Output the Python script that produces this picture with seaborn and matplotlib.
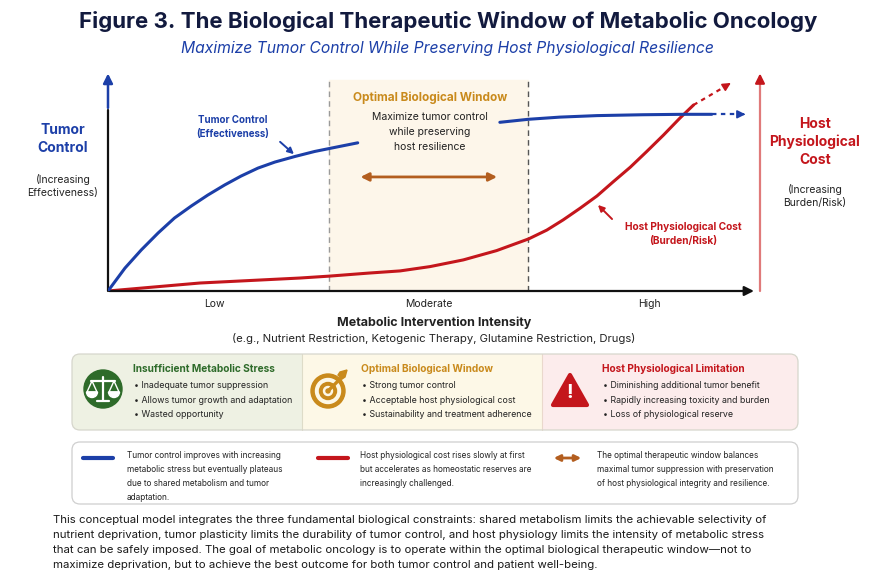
import matplotlib
matplotlib.use("Agg")
import matplotlib.pyplot as plt
import seaborn as sns
from matplotlib.patches import FancyBboxPatch, Rectangle, Circle, Polygon, Wedge

sns.set_theme(style="white")
plt.rcParams["font.family"] = ["Inter", "DejaVu Sans"]

# Colours
NAVY = "#121a3e"
BLUE = "#1c3fa8"
RED = "#c4161c"
GOLD = "#c98a1c"
BROWN = "#b35e1f"
GREEN = "#2e6b2a"
INK = "#222222"

# Curves (intensity 0-10, response 0-100)
tumor_x_low = [0, 0.26, 0.51, 0.77, 1.02, 1.28, 1.53, 1.79, 2.04, 2.30, 2.56, 2.87, 3.17, 3.40, 3.83]
tumor_y_low = [0, 10.6, 19.0, 26.9, 33.8, 39.4, 44.4, 49.1, 53.2, 56.9, 59.7, 62.3, 64.6, 66.0, 68.6]
tumor_x_high = [6.01, 6.45, 6.93, 7.50, 8.20, 8.82, 9.26]
tumor_y_high = [78.1, 79.5, 80.5, 81.2, 81.6, 81.8, 81.8]
tumor_x_proj = [9.26, 9.68]
tumor_y_proj = [81.8, 81.8]

cost_x = [0, 1.41, 2.94, 3.40, 4.00, 4.48, 4.94, 5.45, 5.96, 6.45, 6.73, 6.98, 7.24,
          7.50, 7.75, 8.01, 8.26, 8.52, 8.77, 8.98]
cost_y = [0, 3.7, 6.0, 6.9, 8.3, 9.3, 11.3, 14.4, 18.7, 24.1, 28.2, 32.9, 38.3,
          44.0, 50.6, 57.3, 64.5, 72.2, 80.0, 86.1]
cost_x_proj = [8.98, 9.46]
cost_y_proj = [86.1, 94.6]

window_edges = [3.39, 6.44]
level_ticks = [1.63, 4.92, 8.31]
level_labels = ["Low", "Moderate", "High"]

panel_titles = ["Insufficient Metabolic Stress", "Optimal Biological Window", "Host Physiological Limitation"]
panel_bullets = [
    ["Inadequate tumor suppression", "Allows tumor growth and adaptation", "Wasted opportunity"],
    ["Strong tumor control", "Acceptable host physiological cost", "Sustainability and treatment adherence"],
    ["Diminishing additional tumor benefit", "Rapidly increasing toxicity and burden", "Loss of physiological reserve"],
]
legend_texts = [
    ["Tumor control improves with increasing", "metabolic stress but eventually plateaus",
     "due to shared metabolism and tumor", "adaptation."],
    ["Host physiological cost rises slowly at first", "but accelerates as homeostatic reserves are",
     "increasingly challenged."],
    ["The optimal therapeutic window balances", "maximal tumor suppression with preservation",
     "of host physiological integrity and resilience."],
]
caption_lines = [
    "This conceptual model integrates the three fundamental biological constraints: shared metabolism limits the achievable selectivity of",
    "nutrient deprivation, tumor plasticity limits the durability of tumor control, and host physiology limits the intensity of metabolic stress",
    "that can be safely imposed. The goal of metabolic oncology is to operate within the optimal biological therapeutic window\u2014not to",
    "maximize deprivation, but to achieve the best outcome for both tumor control and patient well-being.",
]

fig = plt.figure(figsize=(8.78, 5.85), dpi=100)

# main chart
ax = fig.add_axes([108 / 878, (585 - 291) / 585, 652 / 878, 216 / 585], zorder=1)
ax.patch.set_alpha(0)
ax.set_xlim(0, 10)
ax.set_ylim(0, 100)
sns.despine(ax=ax, left=True, bottom=True)

# pixel canvas for the layout pieces (drawn above the chart)
cv = fig.add_axes([0, 0, 1, 1], zorder=2)
cv.set_xlim(0, 878)
cv.set_ylim(585, 0)
cv.axis("off")

# window
ax.axvspan(window_edges[0], window_edges[1], ymax=0.977, color="#fdf6ea", zorder=0)
ax.plot([window_edges[0]] * 2, [0, 97.7], ls=(0, (4, 3)), color="#9a9a9a", lw=1)
ax.plot([window_edges[1]] * 2, [0, 97.7], ls=(0, (4, 3)), color="#555555", lw=1)

# curves
line_kw = dict(lw=2.2, solid_joinstyle="round", solid_capstyle="round")
sns.lineplot(x=cost_x, y=cost_y, color=RED, ax=ax, zorder=3, **line_kw)
sns.lineplot(x=tumor_x_low, y=tumor_y_low, color=BLUE, ax=ax, zorder=4, **line_kw)
sns.lineplot(x=tumor_x_high, y=tumor_y_high, color=BLUE, ax=ax, zorder=4, **line_kw)
ax.plot(tumor_x_proj, tumor_y_proj, color=BLUE, lw=1.6, ls=(0, (2, 2)), zorder=4)
ax.plot(cost_x_proj, cost_y_proj, color=RED, lw=1.6, ls=(0, (2, 2)), zorder=3)
ax.annotate("", xy=(tumor_x_proj[1] + 0.14, tumor_y_proj[1]), xytext=(tumor_x_proj[1], tumor_y_proj[1]),
            arrowprops=dict(arrowstyle="-|>", color=BLUE, lw=1.2, mutation_scale=12), annotation_clip=False)
ax.annotate("", xy=(cost_x_proj[1] + 0.13, cost_y_proj[1] + 2.4), xytext=(cost_x_proj[1], cost_y_proj[1]),
            arrowprops=dict(arrowstyle="-|>", color=RED, lw=1.2, mutation_scale=12), annotation_clip=False)

# axes arrows
ax.plot([0, 0], [0, 84], color="#111111", lw=1.6, clip_on=False)
ax.annotate("", xy=(0, 102), xytext=(0, 83.5),
            arrowprops=dict(arrowstyle="-|>", color=BLUE, lw=1.8, mutation_scale=14), annotation_clip=False)
ax.annotate("", xy=(9.95, 0), xytext=(-0.02, 0),
            arrowprops=dict(arrowstyle="-|>", color="#111111", lw=1.6, mutation_scale=14), annotation_clip=False)
ax.plot([10, 10], [0, 96], color="#e07a7a", lw=1.6, clip_on=False)
ax.annotate("", xy=(10, 102), xytext=(10, 95),
            arrowprops=dict(arrowstyle="-|>", color=RED, lw=1.6, mutation_scale=14), annotation_clip=False)

ax.set_yticks([])
ax.set_xticks(level_ticks)
ax.set_xticklabels(level_labels, fontsize=7.5, color=INK)
ax.tick_params(axis="x", length=0, pad=6)
ax.set_xlabel("")
ax.set_ylabel("")

# window double arrow
ax.annotate("", xy=(6.01, 52.8), xytext=(3.83, 52.8),
            arrowprops=dict(arrowstyle="<|-|>", color=BROWN, lw=2, mutation_scale=12))


def txt(x, y, s, size=7.5, color=INK, weight="normal", ha="center", **kw):
    cv.text(x, y, s, fontsize=size, color=color, fontweight=weight, ha=ha, va="center", **kw)


# titles
txt(448, 21, "Figure 3. The Biological Therapeutic Window of Metabolic Oncology", 16, NAVY, "bold")
txt(447, 49, "Maximize Tumor Control While Preserving Host Physiological Resilience", 11.3, BLUE, style="italic")

# axis side labels
txt(63, 139, "Tumor\nControl", 10, BLUE, "bold", linespacing=1.35)
txt(63, 186, "(Increasing\nEffectiveness)", 7.5, INK, linespacing=1.4)
txt(815, 142, "Host\nPhysiological\nCost", 10, RED, "bold", linespacing=1.3)
txt(815, 196, "(Increasing\nBurden/Risk)", 7.5, INK, linespacing=1.4)

txt(233, 127, "Tumor Control\n(Effectiveness)", 7, BLUE, "bold", linespacing=1.45)
cv.annotate("", xy=(296, 156), xytext=(278, 140),
            arrowprops=dict(arrowstyle="-|>", color=BLUE, lw=1.4, mutation_scale=9))
txt(683, 234, "Host Physiological Cost\n(Burden/Risk)", 7.3, RED, "bold", linespacing=1.45)
cv.annotate("", xy=(596, 203), xytext=(614, 221),
            arrowprops=dict(arrowstyle="-|>", color=RED, lw=1.4, mutation_scale=9))

txt(430, 98, "Optimal Biological Window", 8.5, GOLD, "bold")
txt(430, 132, "Maximize tumor control\nwhile preserving\nhost resilience", 7.5, INK, linespacing=1.6)

txt(434, 323, "Metabolic Intervention Intensity", 9, INK, "bold")
txt(434, 338, "(e.g., Nutrient Restriction, Ketogenic Therapy, Glutamine Restriction, Drugs)", 8.1, INK)

# info panels
L, R, T, B = 72, 798, 354, 430
cv.add_patch(FancyBboxPatch((L, T), R - L, B - T, boxstyle="round,pad=0,rounding_size=8",
                            fc="#fcecec", ec="none", zorder=1))
cv.add_patch(FancyBboxPatch((L, T), 250, B - T, boxstyle="round,pad=0,rounding_size=8",
                            fc="#eef1e3", ec="none", zorder=1))
cv.add_patch(Rectangle((302, T), 240, B - T, fc="#fdf8e7", ec="none", zorder=1))
cv.plot([302, 302], [T, B], color="#dedcc8", lw=0.8, zorder=2)
cv.plot([542, 542], [T, B], color="#ead8cc", lw=0.8, zorder=2)
cv.add_patch(FancyBboxPatch((L, T), R - L, B - T, boxstyle="round,pad=0,rounding_size=8",
                            fc="none", ec="#d6d6cc", lw=0.9, zorder=3))

panel_x = [133, 361, 602]
panel_colors = [GREEN, GOLD, RED]
for px, title, bullets, col in zip(panel_x, panel_titles, panel_bullets, panel_colors):
    txt(px, 369, title, 7.3, col, "bold", ha="left")
    for k, b in enumerate(bullets):
        txt(px + 1, 385.5 + 14.6 * k, "\u2022 " + b, 6.35, INK, ha="left")

# scales icon
cv.add_patch(Circle((103, 389), 19, color=GREEN, zorder=4))
w = dict(color="white", lw=1.6, zorder=5, solid_capstyle="round")
cv.plot([103, 103], [377, 400], **w)
cv.plot([91, 115], [381, 381], **w)
cv.plot([97, 109], [401, 401], **w)
for cx in (92, 114):
    cv.plot([cx, cx - 5, cx + 5, cx], [381, 392, 392, 381], color="white", lw=1, zorder=5)
    cv.add_patch(Wedge((cx, 392), 5.5, 0, 180, color="white", zorder=5))

# target icon
for r, c in [(17, GOLD), (12.5, "#fdf8e7"), (8.5, GOLD), (4.5, "#fdf8e7"), (2, GOLD)]:
    cv.add_patch(Circle((328, 391), r, color=c, zorder=4))
cv.plot([329, 343], [390, 376], color=GOLD, lw=2.4, zorder=5, solid_capstyle="round")
cv.add_patch(Polygon([[340, 372], [347, 370], [345, 377], [342, 379], [338, 375]], color=GOLD, zorder=5))

# warning icon
cv.add_patch(Polygon([[570, 375], [553, 405], [587, 405]], closed=True, fc=RED, ec=RED,
                     lw=3, joinstyle="round", zorder=4))
txt(570, 393, "!", 14, "white", "bold", zorder=5)

# legend box
cv.add_patch(FancyBboxPatch((L, 442), R - L, 62, boxstyle="round,pad=0,rounding_size=8",
                            fc="white", ec="#cfcfcf", lw=0.9, zorder=1))
cv.plot([83, 113], [458, 458], color=BLUE, lw=3, zorder=2, solid_capstyle="round")
cv.plot([318, 348], [458, 458], color=RED, lw=3, zorder=2, solid_capstyle="round")
cv.annotate("", xy=(584, 458), xytext=(551, 458),
            arrowprops=dict(arrowstyle="<|-|>", color=BROWN, lw=2, mutation_scale=9))
for lx, lines in zip([127, 360, 597], legend_texts):
    for k, s in enumerate(lines):
        txt(lx, 455 + 14 * k, s, 5.9, INK, ha="left")

# caption
for k, line in enumerate(caption_lines):
    txt(53, 520 + 15 * k, line, 8.2, "#1a1a1a", ha="left")

fig.savefig("out.png", dpi=100)
